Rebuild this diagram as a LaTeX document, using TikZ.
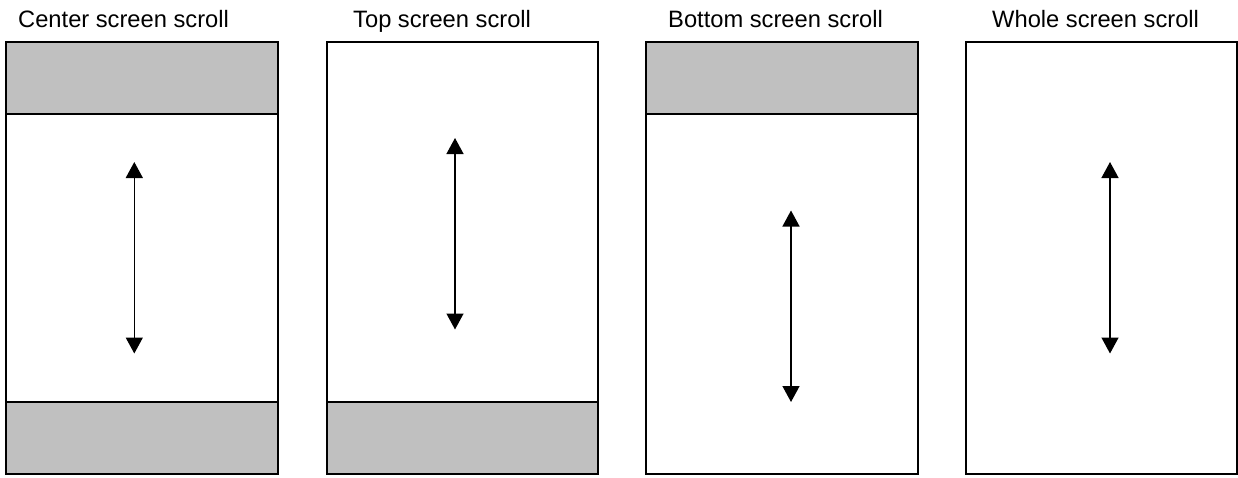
\documentclass[tikz,border=0pt]{standalone}
\usepackage{fontspec}
\setmainfont{Liberation Sans}
\usetikzlibrary{arrows.meta}
\begin{document}
\begin{tikzpicture}[x=1pt,y=-1pt,
  screen/.style={draw=black,line width=2pt},
  bar/.style={draw=black,line width=2pt,fill=barGray},
  scrollarrow/.style={line width=1.4pt,{Triangle[length=16pt,width=17pt]}-{Triangle[length=16pt,width=17pt]}},
  title/.style={anchor=base west,inner sep=0pt,font=\fontsize{23.7pt}{28pt}\selectfont}]
\definecolor{barGray}{HTML}{C0C0C0}
\useasboundingbox (0,0) rectangle (1238,477);
% titles
\node[title] (t1) at (18,27) {Center screen scroll};
\node[title] (t2) at (353,27) {Top screen scroll};
\node[title] (t3) at (668,27) {Bottom screen scroll};
\node[title] (t4) at (992,27) {Whole screen scroll};
% panel 1
\draw[screen] (6,42) rectangle (278,474);
\draw[bar] (6,42) rectangle (278,114);
\draw[bar] (6,402) rectangle (278,474);
\coordinate (a1t) at (134.3,162);
\coordinate (a1b) at (134.3,353.5);
\draw[scrollarrow] (a1t) -- (a1b);
% panel 2
\draw[screen] (326.7,42) rectangle (597.7,474);
\draw[bar] (326.7,402) rectangle (597.7,474);
\coordinate (a2t) at (455,138);
\coordinate (a2b) at (455,329.5);
\draw[scrollarrow] (a2t) -- (a2b);
% panel 3
\draw[screen] (646,42) rectangle (918,474);
\draw[bar] (646,42) rectangle (918,114);
\coordinate (a3t) at (791,210.5);
\coordinate (a3b) at (791,402);
\draw[scrollarrow] (a3t) -- (a3b);
% panel 4
\draw[screen] (966,42) rectangle (1236.8,474);
\coordinate (a4t) at (1110,162);
\coordinate (a4b) at (1110,353.5);
\draw[scrollarrow] (a4t) -- (a4b);
\end{tikzpicture}
\end{document}
